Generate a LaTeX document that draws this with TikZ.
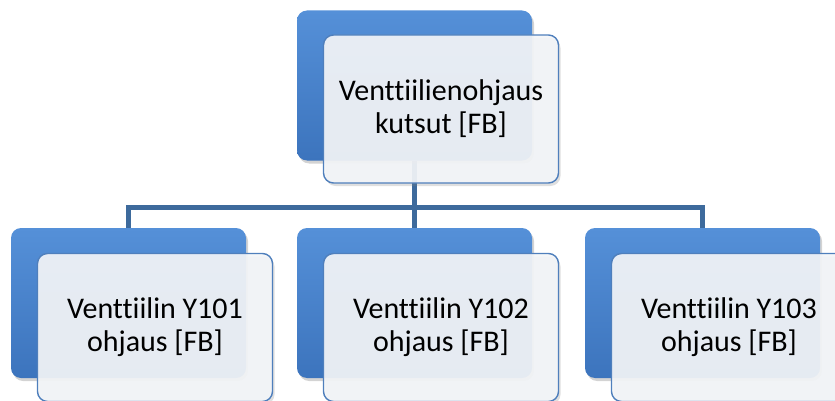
\documentclass[tikz,border=0pt]{standalone}
\usepackage{fontspec}
\setmainfont{Carlito}[Ligatures=NoCommon]
\usetikzlibrary{positioning,shadows,backgrounds}

\definecolor{blocktop}{HTML}{5590D8}
\definecolor{blockmid}{HTML}{4681CB}
\definecolor{blockbot}{HTML}{3C74BD}
\definecolor{cardfill}{HTML}{F3F5F8}
\definecolor{cardline}{HTML}{4F7FBC}
\definecolor{linkblue}{HTML}{3D6A9C}

\tikzset{
  block/.style={rounded corners=10pt,minimum width=235pt,minimum height=150pt,
    top color=blocktop,middle color=blockmid,bottom color=blockbot,
    drop shadow={shadow xshift=2pt,shadow yshift=-3pt,opacity=0.35}},
  card/.style={draw=cardline,line width=1.4pt,rounded corners=10pt,
    fill=cardfill,fill opacity=0.92,text opacity=1,
    minimum width=235pt,minimum height=148pt,align=center,
    font=\fontsize{30}{33}\selectfont,
    drop shadow={shadow xshift=2pt,shadow yshift=-3pt,opacity=0.25}},
  link/.style={draw=linkblue,line width=5pt}
}

\begin{document}
\begin{tikzpicture}[x=1pt,y=-1pt]
      \useasboundingbox (0,0) rectangle (835,401);
      % top level
      \node[block] (topb) at (414.5,85.5) {};
      \node[card,anchor=north west] (topc) at ([shift={(26pt,-24pt)}]topb.north west)
        {Venttiilienohjaus\\kutsut [FB]};
      % valves
      \node[block] (y101b) at (128.5,303) {};
      \node[card,anchor=north west] (y101c) at ([shift={(26pt,-25pt)}]y101b.north west)
        {Venttiilin Y101\\ohjaus [FB]};
      \node[block] (y102b) at (414.5,303) {};
      \node[card,anchor=north west] (y102c) at ([shift={(26pt,-25pt)}]y102b.north west)
        {Venttiilin Y102\\ohjaus [FB]};
      \node[block] (y103b) at (702.5,303) {};
      \node[card,anchor=north west] (y103c) at ([shift={(26pt,-25pt)}]y103b.north west)
        {Venttiilin Y103\\ohjaus [FB]};
      \begin{pgfonlayer}{background}
        \coordinate (bus) at (414.5,207);
        \draw[link] (topb.south) -- (bus);
        \draw[link] (bus) -| (y101b.north);
        \draw[link] (bus) -- (y102b.north);
        \draw[link] (bus) -| (y103b.north);
      \end{pgfonlayer}
\end{tikzpicture}
\end{document}
